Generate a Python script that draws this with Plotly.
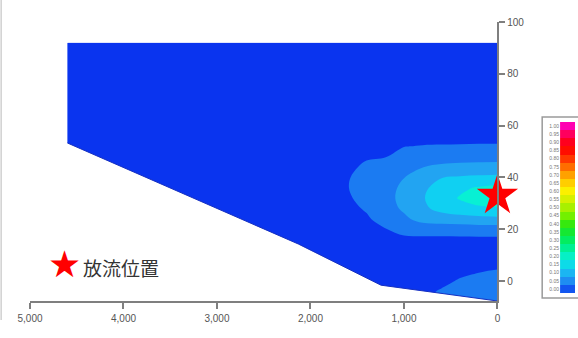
import plotly.graph_objects as go

# ---------------- data ----------------
# distance from release point [m] (x grid of the concentration field)
dist_m = [0, 200, 400, 600, 800, 1000, 1200, 1400, 1600, 2200, 3000, 3800, 4600]
# elevation / depth coordinate (y grid)
depth_m = [-8, -4, 0, 4, 8, 12, 16, 20, 24, 28, 32, 36, 40, 44, 48, 52, 56, 60, 70, 80, 92]

# relative concentration profiles, one list per distance column (bottom -> top)
c_0000 = [0.085, 0.075, 0.065, 0.052, 0.035, 0.030, 0.040, 0.075, 0.1375, 0.195, 0.235, 0.215, 0.160, 0.120, 0.080, 0.055, 0.035, 0.025, 0.020, 0.015, 0.010]
c_0200 = [0.080, 0.070, 0.058, 0.048, 0.034, 0.030, 0.040, 0.075, 0.135, 0.190, 0.225, 0.205, 0.158, 0.118, 0.080, 0.055, 0.035, 0.025, 0.020, 0.015, 0.010]
c_0400 = [0.070, 0.060, 0.052, 0.045, 0.033, 0.030, 0.040, 0.073, 0.130, 0.180, 0.204, 0.190, 0.155, 0.115, 0.078, 0.054, 0.035, 0.025, 0.020, 0.015, 0.010]
c_0600 = [0.060, 0.052, 0.045, 0.040, 0.032, 0.030, 0.040, 0.072, 0.125, 0.165, 0.178, 0.170, 0.149, 0.110, 0.076, 0.053, 0.035, 0.025, 0.020, 0.015, 0.010]
c_0800 = [0.045, 0.045, 0.040, 0.036, 0.031, 0.030, 0.040, 0.070, 0.118, 0.140, 0.146, 0.140, 0.125, 0.099, 0.072, 0.052, 0.035, 0.025, 0.020, 0.015, 0.010]
c_1000 = [0.035, 0.035, 0.035, 0.033, 0.030, 0.030, 0.040, 0.065, 0.090, 0.108, 0.113, 0.110, 0.099, 0.085, 0.068, 0.049, 0.035, 0.025, 0.020, 0.015, 0.010]
c_1200 = [0.030, 0.030, 0.030, 0.030, 0.030, 0.030, 0.035, 0.048, 0.065, 0.078, 0.085, 0.082, 0.072, 0.060, 0.049, 0.040, 0.030, 0.025, 0.020, 0.015, 0.010]
c_1400 = [0.030, 0.030, 0.030, 0.030, 0.030, 0.030, 0.032, 0.038, 0.045, 0.054, 0.064, 0.066, 0.062, 0.055, 0.047, 0.038, 0.030, 0.025, 0.020, 0.015, 0.010]
c_1600 = [0.030, 0.030, 0.030, 0.030, 0.030, 0.030, 0.030, 0.032, 0.036, 0.040, 0.045, 0.049, 0.048, 0.044, 0.040, 0.035, 0.030, 0.025, 0.020, 0.015, 0.010]
c_2200 = [0.025, 0.025, 0.025, 0.025, 0.025, 0.025, 0.025, 0.025, 0.028, 0.030, 0.032, 0.032, 0.030, 0.028, 0.026, 0.024, 0.022, 0.020, 0.018, 0.014, 0.010]
c_3000 = [0.020, 0.020, 0.020, 0.020, 0.020, 0.020, 0.020, 0.020, 0.022, 0.024, 0.025, 0.025, 0.024, 0.022, 0.021, 0.020, 0.019, 0.018, 0.016, 0.013, 0.010]
c_3800 = [0.015, 0.015, 0.015, 0.015, 0.015, 0.015, 0.016, 0.017, 0.018, 0.019, 0.020, 0.020, 0.019, 0.018, 0.017, 0.016, 0.015, 0.015, 0.014, 0.012, 0.010]
c_4600 = [0.012, 0.012, 0.012, 0.012, 0.012, 0.012, 0.013, 0.014, 0.015, 0.016, 0.016, 0.016, 0.016, 0.015, 0.014, 0.013, 0.013, 0.012, 0.012, 0.011, 0.010]

# outline of the bottom of the domain (distance, elevation)
bottom_x = [4600, 2130, 1245, 0]
bottom_y = [53.3, 14.3, -1.6, -7.7]

# release position
release_x = [0]
release_y = [33]
release_name = "放流位置"

# colour-bar levels and their colours
levels = [round(i * 0.05, 2) for i in range(21)]
level_colors = [
    "#0a34ef", "#1b7bf2", "#22a4f2", "#10d0f2", "#08f0d4",
    "#00f0a0", "#00ee6a", "#10e838", "#30e810", "#70f000",
    "#a8f000", "#d8f000", "#fff000", "#ffc800", "#ff9800",
    "#ff6000", "#ff2800", "#ff0000", "#ff0030", "#ff0080",
    "#ff00e0",
]

x_ticks = [0, 1000, 2000, 3000, 4000, 5000]
y_ticks = [0, 20, 40, 60, 80, 100]

# ---------------- build figure ----------------
columns = [c_0000, c_0200, c_0400, c_0600, c_0800, c_1000, c_1200,
           c_1400, c_1600, c_2200, c_3000, c_3800, c_4600]
z = [[col[j] for col in columns] for j in range(len(depth_m))]

# discrete colour scale: band i -> level_colors[i]
cscale = []
for i in range(20):
    cscale.append([i / 20, level_colors[i]])
    cscale.append([(i + 1) / 20, level_colors[i]])

W, H = 578, 338
ML, MR, MT, MB = 30, 0, 22, 37
PW = W - ML - MR
PH = H - MT - MB


def px_x(px):
    return (px - ML) / PW


def px_y(py):
    return (H - MB - py) / PH


fig = go.Figure()

fig.add_trace(go.Contour(
    x=dist_m, y=depth_m, z=z,
    zmin=0, zmax=1,
    colorscale=cscale,
    contours=dict(start=0, end=1, size=0.05, coloring="fill", showlines=False),
    line=dict(width=0),
    showscale=False,
    hoverinfo="skip",
    xaxis="x", yaxis="y",
))

# white mask below the domain bottom (extends past the domain so no seams show)
mask_x = [5200] + bottom_x + [-300, -300, 5200]
mask_y = [bottom_y[0]] + bottom_y + [bottom_y[-1], -60, -60]
fig.add_trace(go.Scatter(
    x=mask_x, y=mask_y, fill="toself", fillcolor="white",
    mode="none",
    hoverinfo="skip", showlegend=False,
))
fig.add_trace(go.Scatter(
    x=bottom_x, y=bottom_y, mode="lines",
    line=dict(width=1, color="#1630c0"),
    hoverinfo="skip", showlegend=False,
))

# release position star
fig.add_trace(go.Scatter(
    x=release_x, y=release_y, mode="markers",
    marker=dict(symbol="star", size=31, color="#ff0000", line=dict(width=0)),
    cliponaxis=False, hoverinfo="skip", showlegend=False, name=release_name,
))

# colour bar drawn as a heat-map strip
fig.add_trace(go.Heatmap(
    x=[0], y=levels, z=[[i] for i in range(len(levels))],
    zmin=-0.5, zmax=len(levels) - 0.5,
    colorscale=[[k / (len(levels) - 1), c] for k, c in enumerate(level_colors)],
    showscale=False, hoverinfo="skip",
    xaxis="x2", yaxis="y2",
))

axis_font = dict(family="Liberation Sans, Arial, sans-serif", size=10, color="#555555")

fig.update_layout(
    width=W, height=H,
    margin=dict(l=ML, r=MR, t=MT, b=MB),
    paper_bgcolor="white", plot_bgcolor="white",
    showlegend=False,
    xaxis=dict(
        domain=[0, px_x(500)], range=[5000, 0], anchor="y",
        tickvals=x_ticks, tickformat=",d",
        ticks="outside", ticklen=6, tickwidth=1.5, tickcolor="#7f7f7f",
        showline=True, linecolor="#7f7f7f", linewidth=1.5,
        showgrid=False, zeroline=False, tickfont=axis_font,
        ticklabelstandoff=1,
        layer="above traces",
    ),
    yaxis=dict(
        domain=[0, 1], range=[-7.7, 100], anchor="x", side="right",
        tickvals=y_ticks,
        ticks="outside", ticklen=6, tickwidth=1.5, tickcolor="#7f7f7f",
        showline=True, linecolor="#7f7f7f", linewidth=1.5,
        showgrid=False, zeroline=False, tickfont=axis_font,
        layer="above traces",
    ),
    xaxis2=dict(
        domain=[px_x(563), 1], range=[-0.5, 0.5], anchor="y2",
        showticklabels=False, showgrid=False, zeroline=False, showline=False, ticks="",
    ),
    yaxis2=dict(
        domain=[px_y(293), px_y(122)], range=[-0.025, 1.025], anchor="x2", side="left",
        tickvals=levels, ticktext=[f"{v:.2f}" for v in levels],
        tickfont=dict(family="Liberation Sans, Arial, sans-serif", size=5, color="#777777"),
        showgrid=False, zeroline=False, showline=False, ticks="",
    ),
    shapes=[
        dict(type="rect", xref="paper", yref="paper",
             x0=px_x(545), x1=px_x(600), y0=px_y(298), y1=px_y(117),
             line=dict(color="#9a9a9a", width=1.5)),
        dict(type="line", xref="paper", yref="paper",
             x0=px_x(1), x1=px_x(1), y0=px_y(0), y1=px_y(320),
             line=dict(color="#d0d0d0", width=1.5)),
    ],
    annotations=[
        dict(text="★", xref="paper", yref="paper", x=px_x(65), y=px_y(264),
             xanchor="center", yanchor="middle", showarrow=False,
             font=dict(family="DejaVu Sans", size=37, color="#ff0000")),
        dict(text=release_name, xref="paper", yref="paper", x=px_x(81), y=px_y(267),
             xanchor="left", yanchor="middle", showarrow=False,
             font=dict(family="Noto Sans CJK JP", size=19, color="#333333")),
    ],
)

fig.write_html("out.html")
